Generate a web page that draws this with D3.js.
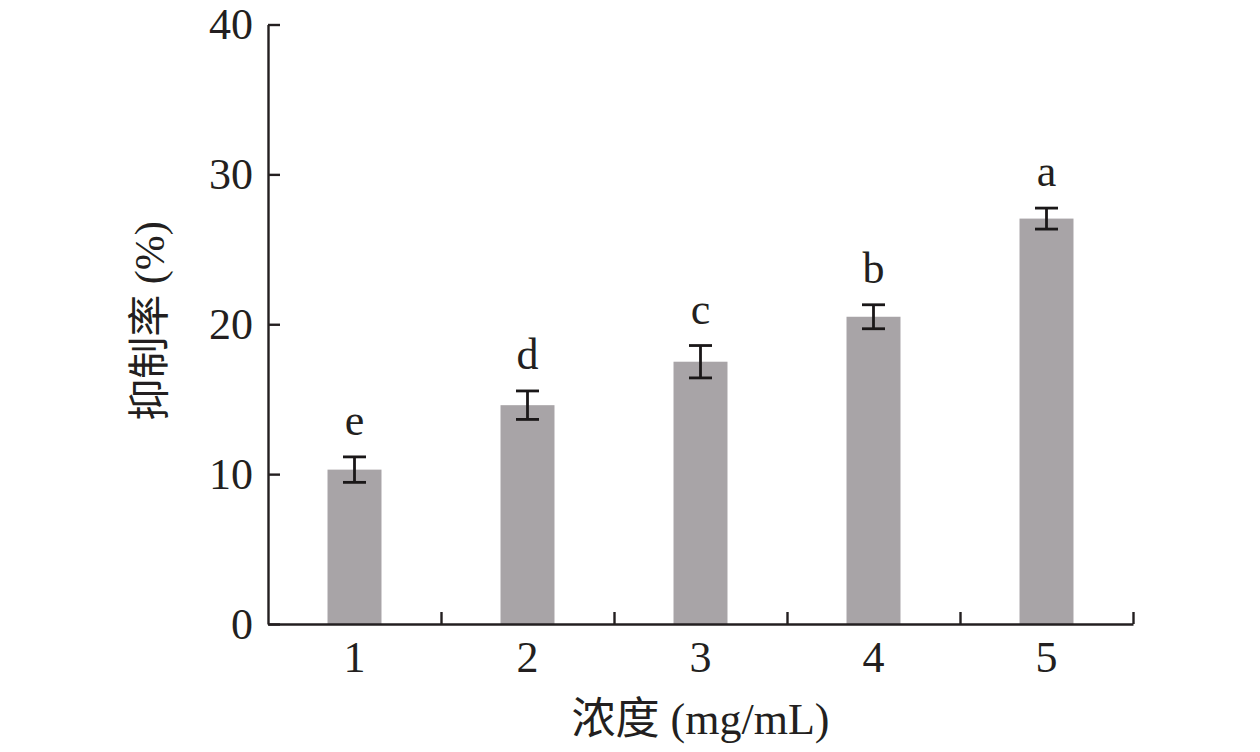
<!DOCTYPE html>
<html>
<head>
<meta charset="utf-8">
<script src="https://cdn.jsdelivr.net/npm/d3@7"></script>
<style>
  body { margin: 0; background: #fff; }
  text { font-family: "Liberation Serif", "Noto Sans CJK SC", serif; fill: #231f20; }
</style>
</head>
<body>
<script>
const concentrations = ['1', '2', '3', '4', '5']
const inhibition = [10.3, 14.6, 17.5, 20.5, 27.05]
const errors = [0.85, 0.95, 1.08, 0.8, 0.7]
const letters = ['e', 'd', 'c', 'b', 'a']
const yTicks = [0, 10, 20, 30, 40]

const largura = 1260
const altura = 752
const margem = {top: 24.5, right: 127, bottom: 128, left: 268}
const w = largura - margem.left - margem.right
const h = altura - margem.top - margem.bottom
const cor = '#231f20'

const svg = d3.select('body').append('svg')
  .attr('width', largura).attr('height', altura)

const g = svg.append('g')
  .attr('transform', 'translate(' + margem.left + ',' + margem.top + ')')

const x = d3.scaleBand().domain(concentrations).range([0, w]).paddingInner(0).paddingOuter(0)
const xBorda = d3.scaleLinear().domain([0.5, 5.5]).range([0, w])
const y = d3.scaleLinear().domain([0, 40]).range([h, 0])
const barW = x.bandwidth() * 0.312

// barras
g.selectAll('rect.bar').data(inhibition).join('rect')
  .attr('class', 'bar')
  .attr('x', (d, i) => x(concentrations[i]) + (x.bandwidth() - barW) / 2)
  .attr('y', d => y(d))
  .attr('width', barW)
  .attr('height', d => h - y(d))
  .attr('fill', '#a8a4a7')

// barras de erro
const erro = g.selectAll('g.erro').data(inhibition).join('g')
  .attr('class', 'erro')
  .attr('transform', (d, i) => 'translate(' + (x(concentrations[i]) + x.bandwidth() / 2) + ',0)')
  .attr('stroke', '#1a1718').attr('stroke-width', 2.8)
erro.append('line')
  .attr('y1', (d, i) => y(d + errors[i])).attr('y2', (d, i) => y(d - errors[i]))
erro.append('line').attr('x1', -11.5).attr('x2', 11.5)
  .attr('y1', (d, i) => y(d + errors[i])).attr('y2', (d, i) => y(d + errors[i]))
erro.append('line').attr('x1', -11.5).attr('x2', 11.5)
  .attr('y1', (d, i) => y(d - errors[i])).attr('y2', (d, i) => y(d - errors[i]))

// letras de significancia
g.selectAll('text.letra').data(inhibition).join('text')
  .attr('class', 'letra')
  .attr('x', (d, i) => x(concentrations[i]) + x.bandwidth() / 2)
  .attr('y', (d, i) => y(d + errors[i]) - 22)
  .attr('text-anchor', 'middle')
  .style('font-size', '44px')
  .text((d, i) => letters[i])

// eixo y
const eixoY = g.append('g')
  .call(d3.axisLeft(y).tickValues(yTicks).tickSizeInner(-12).tickSizeOuter(0).tickPadding(15))
eixoY.selectAll('path, line').attr('stroke', cor).attr('stroke-width', 2.4)
eixoY.selectAll('text').style('font-size', '44px').attr('fill', cor)

// eixo x (rotulos nos centros)
const eixoX = g.append('g')
  .attr('transform', 'translate(0,' + h + ')')
  .call(d3.axisBottom(x).tickSize(0).tickPadding(17))
eixoX.select('.domain').remove()
eixoX.selectAll('text').style('font-size', '44px').attr('fill', cor)

// eixo x (marcas nas bordas)
const eixoXB = g.append('g')
  .attr('transform', 'translate(0,' + h + ')')
  .call(d3.axisBottom(xBorda).tickValues([1.5, 2.5, 3.5, 4.5, 5.5]).tickFormat('').tickSizeInner(-12).tickSizeOuter(0))
eixoXB.selectAll('path, line').attr('stroke', cor).attr('stroke-width', 2.4)

// titulos
svg.append('text')
  .attr('x', margem.left + w / 2).attr('y', 734)
  .attr('text-anchor', 'middle')
  .style('font-size', '44px')
  .text('浓度 (mg/mL)')

svg.append('text')
  .attr('transform', 'translate(164,' + 321 + ') rotate(-90)')
  .attr('text-anchor', 'middle')
  .style('font-size', '42px')
  .text('抑制率 (%)')
</script>
</body>
</html>
